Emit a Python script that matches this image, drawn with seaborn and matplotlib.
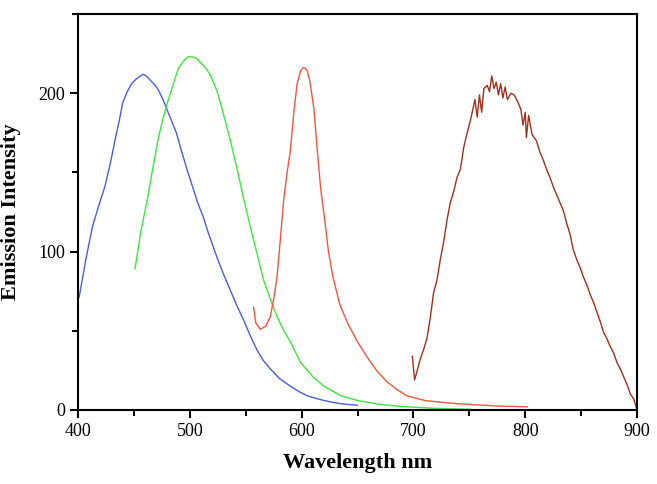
import numpy as np
import pandas as pd
import seaborn as sns
import matplotlib.pyplot as plt
from matplotlib.ticker import MultipleLocator

# emission spectra (wavelength nm, intensity)
blue_wl = [401, 407, 413, 419, 424, 429, 433, 437, 440, 444, 448, 452, 456, 458,
           461, 465, 469, 472, 476, 480, 484, 488, 492, 497, 502, 507, 512, 516,
           520, 524, 530, 536, 542, 548, 554, 560, 566, 572, 580, 590, 598, 605,
           612, 620, 628, 635, 642, 650]
blue_val = [71, 95, 116, 130, 141, 156, 170, 183, 194, 201, 206, 209, 211, 212,
            211, 208, 205, 202, 196, 189, 182, 175, 165, 153, 142, 131, 122, 113,
            105, 97, 86, 76, 66, 57, 47, 38, 31, 26, 20, 15, 11.5, 9,
            7.5, 6, 4.8, 4, 3.5, 3]

green_wl = [451, 456, 462, 467, 472, 476, 480, 484, 487, 490, 494, 498, 502, 506,
            510, 514, 518, 521, 524, 527, 530, 536, 542, 548, 554, 560, 566, 572,
            578, 584, 590, 599, 610, 620, 635, 650, 670, 694, 720, 751]
green_val = [89, 112, 133, 153, 172, 184, 194, 203, 210, 216, 220, 223, 223, 222,
             219, 216, 212, 207, 202, 195, 187, 171, 153, 134, 116, 99, 82, 70,
             59, 50, 43, 30, 21, 15, 9, 6, 3.5, 2, 1, 0.5]

red_wl = [557, 559, 563, 568, 572, 575, 578, 581, 584, 587, 590, 593, 596, 599,
          601, 603, 605, 607, 609, 611, 614, 617, 621, 624, 628, 634, 641, 650,
          658, 667, 676, 685, 694, 710, 730, 750, 775, 802]
red_val = [65, 55, 51, 53, 59, 70, 84, 108, 133, 150, 164, 188, 206, 214,
           216, 216, 214, 209, 200, 190, 164, 140, 118, 100, 84, 67, 55, 43,
           34, 25, 18, 13, 9, 6, 4.5, 3.5, 2.5, 2]

brown_wl = [699, 701, 703, 706, 709, 712, 715, 718, 721, 724, 727, 730, 733, 736,
            739, 742, 745, 748, 751, 755, 757, 759, 761, 763, 766, 768, 770, 772,
            774, 776, 778, 780, 782, 784, 787, 790, 793, 796, 798, 800, 801, 803,
            806, 810, 813, 816, 819, 822, 825, 828, 831, 834, 837, 840, 843, 846,
            849, 852, 855, 858, 861, 864, 867, 870, 873, 876, 879, 882, 885, 888,
            891, 894, 897, 900]
brown_val = [34, 19, 24, 32, 38, 45, 58, 74, 82, 95, 106, 120, 131, 138,
             147, 152, 166, 175, 183, 196, 185, 199, 188, 203, 205, 201, 211, 203,
             207, 199, 206, 197, 204, 196, 200, 199, 195, 190, 180, 188, 172, 186,
             174, 170, 163, 158, 152, 147, 141, 136, 131, 126, 118, 111, 101, 95,
             90, 84, 79, 73, 68, 62, 56, 49, 45, 40, 36, 30, 26, 21,
             16, 10, 7, 0]

x_ticks = [400, 500, 600, 700, 800, 900]
y_ticks = [0, 100, 200]

sns.set_style("ticks", {"axes.edgecolor": "black", "xtick.color": "black",
                        "ytick.color": "black", "text.color": "black",
                        "axes.labelcolor": "black"})
plt.rcParams['font.family'] = ['Liberation Serif', 'DejaVu Serif']
plt.rcParams['xtick.major.width'] = 1.5
plt.rcParams['ytick.major.width'] = 1.5
plt.rcParams['xtick.minor.width'] = 1.5
plt.rcParams['ytick.minor.width'] = 1.5

fig = plt.figure(figsize=(6.57, 4.84), dpi=100)
ax = fig.add_axes([0.1187, 0.1529, 0.851, 0.818])

series = [(blue_wl, blue_val, '#4a5ee6'),
          (green_wl, green_val, '#3de83d'),
          (red_wl, red_val, '#f2553f'),
          (brown_wl, brown_val, '#a3301f')]
for wl, val, c in series:
    sns.lineplot(x=wl, y=val, ax=ax, color=c, linewidth=1.0, sort=False)

ax.set_xlim(400, 900)
ax.set_ylim(0, 250)
ax.set_xticks(x_ticks)
ax.set_yticks(y_ticks)
ax.xaxis.set_minor_locator(MultipleLocator(50))
ax.yaxis.set_minor_locator(MultipleLocator(50))
ax.tick_params(which='major', length=6, labelsize=13, direction='out')
ax.tick_params(which='minor', length=4, direction='out')
for s in ax.spines.values():
    s.set_linewidth(1.5)

ax.set_xlabel('Wavelength nm', fontsize=16, fontweight='bold', labelpad=9)
ax.set_ylabel('Emission Intensity', fontsize=16, fontweight='bold', labelpad=12)

fig.savefig('out.png', dpi=100)
